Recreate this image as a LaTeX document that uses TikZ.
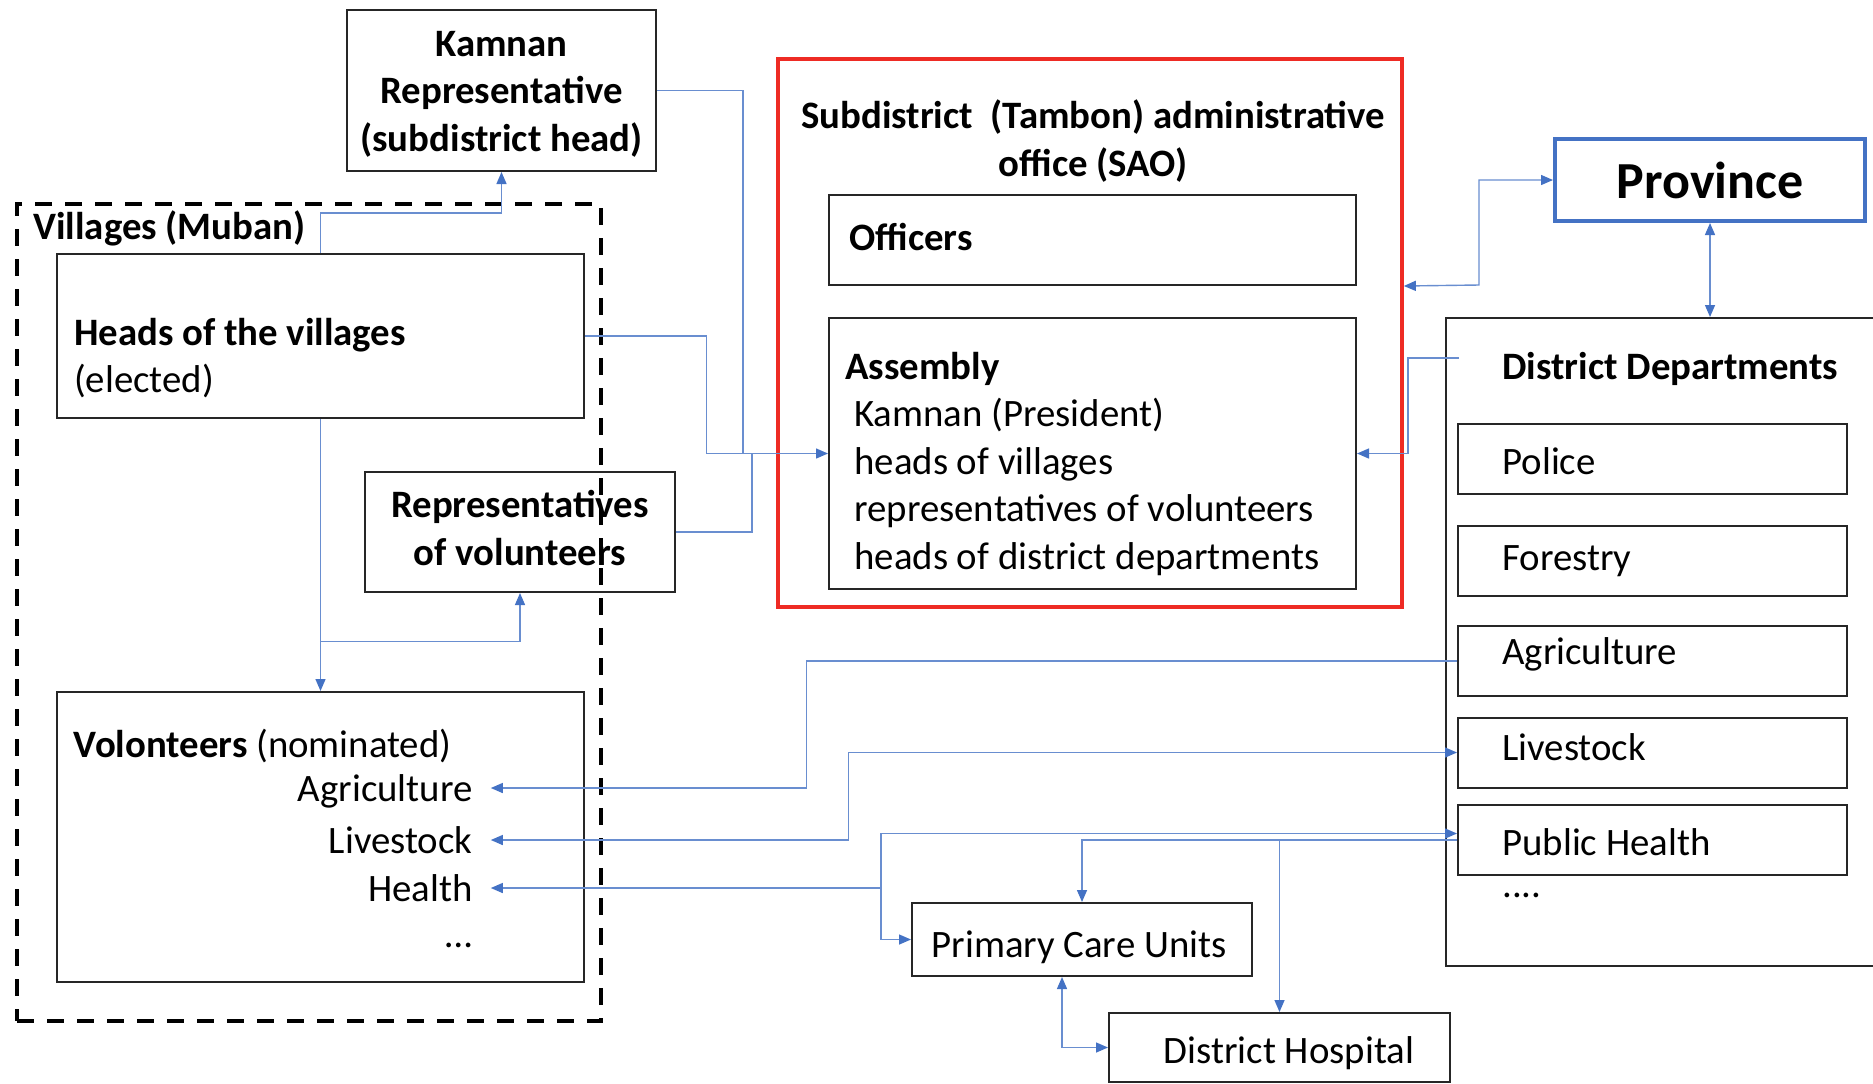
\documentclass[tikz,border=0pt]{standalone}
\usepackage{fontspec}
\setmainfont{Carlito}
\usetikzlibrary{arrows.meta}
\definecolor{linkblue}{HTML}{4472C4}
\definecolor{saored}{HTML}{EE2B24}
\newcommand{\bodyfont}{\fontsize{19.4}{23.75}\selectfont}

\begin{document}
\begin{tikzpicture}[x={(.5pt,0)}, y={(0,-.5pt)}, font=\bodyfont]
            \tikzstyle{box} = [draw=black!85, line width=1pt, inner sep=0pt];
            \tikzstyle{txt} = [inner sep=0pt, anchor=west, align=left];
            \tikzstyle{vtxt} = [inner ysep=0pt, inner xsep=9pt, text depth=0pt, anchor=east];
            \tikzstyle{link} = [draw=linkblue!80, line width=.7pt, >={Triangle[length=6pt,width=5pt,color=linkblue]}];
            \useasboundingbox (0,0) rectangle (1873,1083);
            \clip (0,0) rectangle (1873,1083);
            \node[box, minimum width=309*.5pt, minimum height=161*.5pt] (kamnan) at (501.5,90.5) {};
            \node[align=center, inner sep=0pt, font=\bodyfont\bfseries] (kamnantext) at (501.5,94) {Kamnan\\Representative\\(subdistrict head)};
            \node[draw, line width=2pt, dash pattern=on 8.5pt off 6.5pt, inner sep=0pt, minimum width=584*.5pt, minimum height=817*.5pt] (villages) at (309,612.5) {};
            \node[txt, font=\bodyfont\bfseries] (villageslabel) at (33,228.6) {Villages (Muban)};
            \node[box, minimum width=527*.5pt, minimum height=164*.5pt] (heads) at (320.5,336) {};
            \node[txt] (headstext) at (73.7,358) {\textbf{Heads of the villages}\\(elected)};
            \node[box, minimum width=310*.5pt, minimum height=120*.5pt] (reps) at (520,532) {};
            \node[align=center, inner sep=0pt, font=\bodyfont\bfseries] (repstext) at (520,528) {Representatives\\of volunteers};
            \node[box, minimum width=527*.5pt, minimum height=290*.5pt] (volunteers) at (320.5,837) {};
            \node[txt] (voltitle) at (73.5,746) {\textbf{Volonteers} (nominated)};
            \foreach \n/\l/\y in {vagri/Agriculture/788, vlive/Livestock/840, vhealth/Health/888, vdots/\dots/945}
            {\node[vtxt] (\n) at (490.8,\y) {\l};}
            \node[draw=saored, line width=1.8pt, minimum width=624*.5pt, minimum height=548*.5pt] (sao) at (1090,333) {};
            \node[align=center, inner sep=0pt, font=\bodyfont\bfseries] (saotitle) at (1093,141) {Subdistrict\ \ (Tambon) administrative\\office (SAO)};
            \node[box, minimum width=527*.5pt, minimum height=90*.5pt] (officers) at (1092.5,240) {};
            \node[txt, font=\bodyfont\bfseries] (officerstext) at (849,237) {Officers};
            \node[box, minimum width=527*.5pt, minimum height=271*.5pt] (assembly) at (1092.5,453.5) {};
            \node[txt, font=\bodyfont\bfseries] (assemblytitle) at (845,369) {Assembly};
            \node[txt] (assemblylist) at (854,487) {Kamnan (President)\\heads of villages\\representatives of volunteers\\heads of district departments};
            \node[draw=linkblue, line width=2pt, minimum width=310*.5pt, minimum height=82*.5pt, font=\fontsize{26}{31}\selectfont\bfseries] (province) at (1710,180) {Province};
            \node[box, minimum width=444*.5pt, minimum height=648*.5pt] (dd) at (1668,642) {};
            \node[txt, font=\bodyfont\bfseries] (ddtitle) at (1502,369) {District Departments};
            \foreach \n/\l/\y/\ty in {police/Police/459/461, forestry/Forestry/561/561, agri/Agriculture/661/654, live/Livestock/752.5/747, ph/Public Health/840/842}
            {\node[box, minimum width=389*.5pt, minimum height=70*.5pt] (\n) at (1652.5,\y) {};
            \node[txt] (\n text) at (1502,\ty) {\l};}
            \node[txt] (dddots) at (1502,895) {....};
            \node[box, minimum width=340*.5pt, minimum height=73*.5pt] (pcu) at (1082,939.5) {};
            \node[inner sep=0pt] (pcutext) at (1079,947) {Primary Care Units};
            \node[box, minimum width=341*.5pt, minimum height=69*.5pt] (hosp) at (1279.5,1047.5) {};
            \node[inner sep=0pt] (hosptext) at (1289,1053) {District Hospital};
            \coordinate (split) at (320.5,641.7);
            \coordinate (ddout) at (1459,358);
            \coordinate (hsplit) at (881,887);
            \draw[link] (kamnan.east) -| (743,453.5);
            \draw[link] (reps.east) -| (752,453.5);
            \draw[link, ->] (heads.east) -| (706.7,453.5) -- (assembly.west);
            \draw[link, ->] (heads.north) |- (501.5,213) -- (kamnan.south);
            \draw[link, ->] (heads.south) -- (volunteers.north);
            \draw[link, ->] (split) -| (reps.south);
            \draw[link, <->] (officers.south -| sao.east) -- (1479,285) |- (province.west);
            \draw[link, <->] (province.south) -- (province.south |- dd.north);
            \draw[link, ->] (ddout) -| (1408,453.5) -- (assembly.east);
            \draw[link, ->] (agri.west) -| (806.5,788) -- (vagri.east);
            \draw[link, <->] (vlive.east) -| (848.5,752.5) -- (live.west);
            \draw[link, <->] (vhealth.east) -| (881,833.5) -- ([yshift=3.25pt]ph.west);
            \draw[link, ->] (hsplit) |- (pcu.west);
            \draw[link, ->] (ph.west) -| (pcu.north);
            \draw[link, ->] (ph.west -| hosp.north) -- (hosp.north);
            \draw[link, <->] ([xshift=-10pt]pcu.south) |- (hosp.west);
        \end{tikzpicture}
\end{document}
